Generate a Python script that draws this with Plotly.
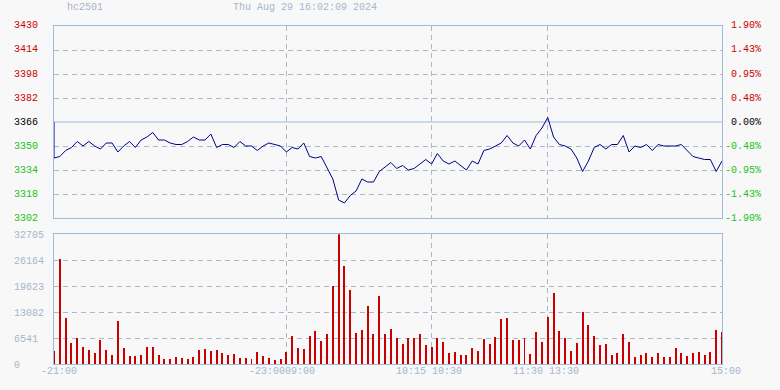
import plotly.graph_objects as go

# ---------------- data ----------------
SYMBOL = "hc2501"
TIMESTAMP = "Thu Aug 29 16:02:09 2024"
PRE_CLOSE = 3366

prices = [
    3342, 3343, 3347, 3349, 3353, 3350, 3353, 3350, 3348, 3352,
    3352, 3346, 3350, 3353, 3349, 3354, 3356, 3359, 3354, 3354,
    3352, 3351, 3351, 3353, 3356, 3354, 3354, 3358, 3349, 3351,
    3351, 3349, 3353, 3350, 3350, 3347, 3350, 3352, 3351, 3350,
    3346, 3349, 3348, 3352, 3343, 3342, 3343, 3335, 3328, 3314,
    3312, 3317, 3320, 3328, 3326, 3326, 3333, 3336, 3339, 3335,
    3337, 3334, 3335, 3338, 3341, 3338, 3345, 3340, 3338, 3340,
    3337, 3334, 3340, 3338, 3347, 3348, 3350, 3352, 3357, 3352,
    3350, 3354, 3348, 3357, 3362, 3369, 3356, 3351, 3350, 3348,
    3342, 3333, 3340, 3349, 3351, 3348, 3351, 3351, 3357, 3346,
    3350, 3349, 3351, 3347, 3351, 3350, 3350, 3350, 3351, 3347,
    3343, 3342, 3341, 3341, 3333, 3340,
]

volumes = [
    3279, 26482, 11518, 5296, 6557, 4288, 3531, 2774, 6053, 3531,
    2270, 10677, 4035, 2018, 2018, 2270, 4288, 4288, 2270, 1261,
    1261, 1765, 1513, 1261, 1765, 3531, 3783, 3279, 3531, 2774,
    2270, 2522, 1513, 1513, 1261, 3026, 2018, 1513, 1009, 1261,
    3026, 7062, 3951, 3783, 7062, 8323, 5801, 7566, 19504, 32705,
    24717, 18664, 7818, 8575, 14460, 7566, 17150, 7566, 8827, 6389,
    5044, 6557, 6389, 7566, 4792, 4288, 6389, 5549, 2774, 3026,
    2270, 2270, 4035, 3279, 6305, 5044, 6810, 11350, 11602, 6053,
    6053, 6557, 2522, 8071, 5549, 11854, 17907, 8323, 6557, 3279,
    5296, 13115, 9836, 7062, 4792, 5044, 2270, 2774, 7566, 5549,
    1765, 2270, 2774, 1765, 2774, 1765, 1765, 4035, 2774, 2018,
    2774, 3026, 2270, 3026, 8575, 8071,
]

price_ticks = [3430, 3414, 3398, 3382, 3366, 3350, 3334, 3318, 3302]
volume_ticks = [32705, 26164, 19623, 13082, 6541, 0]

session_breaks = [40, 65, 85]          # bar index of session boundaries
time_tick_index = [0, 40, 65, 85, 115]
time_tick_labels = ["-21:00", "-23:0009:00", "10:15 10:30", "11:30 13:30", "15:00"]

# ---------------- style ----------------
BG = "#f8f8f8"
BORDER = "#9dbbdc"
GRID = "#a9b9cc"
MUTED = "#a7b6ca"
UP = "#cc0000"
DOWN = "#22c022"
FONT = "Liberation Mono"

idx = list(range(len(prices)))
pmin, pmax = min(price_ticks), max(price_ticks)
vmax = max(volume_ticks)


def col(v):
    if v > PRE_CLOSE:
        return UP
    if v < PRE_CLOSE:
        return DOWN
    return "#000000"


fig = go.Figure()

# price line (starts from previous close)
fig.add_trace(go.Scatter(
    x=[0] + idx, y=[PRE_CLOSE] + prices, mode="lines",
    line=dict(color="#000088", width=1), xaxis="x", yaxis="y",
    hoverinfo="skip", showlegend=False,
))
# volume bars
fig.add_trace(go.Bar(
    x=idx, y=volumes, width=0.17, marker=dict(color="#c80000", line=dict(width=0)),
    xaxis="x2", yaxis="y3", hoverinfo="skip", showlegend=False,
))

XDOM = [54 / 780, 722 / 780]
PDOM = [1 - 218 / 390, 1 - 26 / 390]
VDOM = [1 - 364 / 390, 1 - 234.3 / 390]

xcommon = dict(
    domain=XDOM, range=[0, len(prices) - 1], tickvals=session_breaks,
    showticklabels=False, ticks="", showgrid=True, gridcolor=GRID,
    griddash="5px,4px", gridwidth=1, zeroline=False, automargin=False,
    showline=True, linecolor=BORDER, linewidth=1, mirror=True,
)

grid_prices = [v for v in price_ticks if v != PRE_CLOSE]

fig.update_layout(
    width=780, height=390,
    margin=dict(l=0, r=0, t=0, b=0, pad=0, autoexpand=False),
    paper_bgcolor=BG, plot_bgcolor=BG,
    font=dict(family=FONT, size=10, color=MUTED),
    bargap=0,
    xaxis=dict(anchor="y", **xcommon),
    xaxis2=dict(anchor="y3", **xcommon),
    yaxis=dict(
        domain=PDOM, range=[pmin, pmax], tickvals=grid_prices,
        showticklabels=False, ticks="", showgrid=True, gridcolor=GRID,
        griddash="5px,4px", gridwidth=1, zeroline=False, automargin=False,
        showline=True, linecolor=BORDER, linewidth=1, mirror=True,
    ),
    yaxis3=dict(
        domain=VDOM, range=[0, vmax], tickvals=volume_ticks[1:-1],
        showticklabels=False, ticks="", showgrid=True, gridcolor=GRID,
        griddash="5px,4px", gridwidth=1, zeroline=False, automargin=False,
        showline=True, linecolor=BORDER, linewidth=1, mirror=True,
    ),
)

# previous-close reference line
fig.add_shape(type="line", xref="x", yref="y", x0=0, x1=len(prices) - 1,
              y0=PRE_CLOSE, y1=PRE_CLOSE, line=dict(color=BORDER, width=1), layer="below")

ann = []
for v in price_ticks:
    ann.append(dict(xref="paper", yref="y", x=12 / 780, y=v, xanchor="left", yanchor="middle",
                    text=str(v), showarrow=False,
                    font=dict(family=FONT, size=10, color=col(v))))
    pct = (v - PRE_CLOSE) / PRE_CLOSE * 100
    ann.append(dict(xref="paper", yref="y", x=763 / 780, y=v, xanchor="right", yanchor="middle",
                    text=f"{pct:.2f}%", showarrow=False,
                    font=dict(family=FONT, size=10, color=col(v))))
for v in volume_ticks:
    ypos = VDOM[0] + (VDOM[1] - VDOM[0]) * v / vmax
    ann.append(dict(xref="paper", yref="paper", x=12 / 780, y=ypos,
                    xanchor="left", yanchor="middle",
                    text=f"<span>{v}</span>", showarrow=False, yshift=-1,
                    font=dict(family=FONT, size=10, color=MUTED)))
shifts = [5, -4, -3, -2, 4]
for i, lab, s in zip(time_tick_index, time_tick_labels, shifts):
    ann.append(dict(xref="x2", yref="paper", x=i, y=1 - 371 / 390, xanchor="center",
                    yanchor="middle", text=lab, showarrow=False, xshift=s,
                    font=dict(family=FONT, size=10, color=MUTED)))
ann.append(dict(xref="paper", yref="paper", x=65 / 780, y=1 - 7 / 390, xanchor="left",
                yanchor="middle", text=SYMBOL, showarrow=False,
                font=dict(family=FONT, size=10, color=MUTED)))
ann.append(dict(xref="paper", yref="paper", x=305 / 780, y=1 - 7 / 390, xanchor="center",
                yanchor="middle", text=TIMESTAMP, showarrow=False,
                font=dict(family=FONT, size=10, color=MUTED)))
fig.update_layout(annotations=ann)

fig.write_html("out.html")
